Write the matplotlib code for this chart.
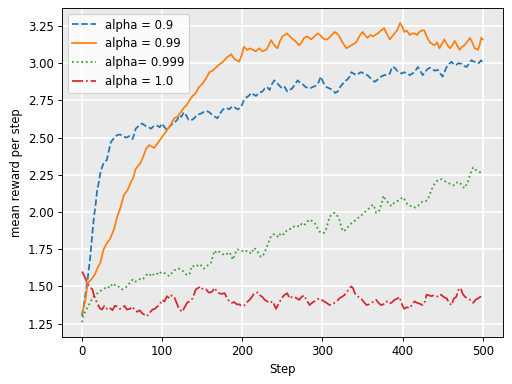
import matplotlib
matplotlib.use('Agg')
import matplotlib.pyplot as plt

# values (step, mean reward)
steps_09 = [0, 3, 7, 10, 13, 15, 17, 19, 21, 23, 25, 27, 29, 31, 33, 36, 39, 42, 45, 48, 51, 55, 59, 63, 65, 67, 71, 75, 79, 83, 86, 90, 94, 97, 100, 103, 106, 110, 115, 119, 121, 124, 127, 130, 133, 136, 140, 144, 148, 151, 155, 159, 163, 166, 169, 172, 176, 180, 184, 187, 190, 194, 198, 202, 205, 208, 211, 214, 217, 221, 225, 228, 231, 234, 237, 240, 243, 246, 250, 253, 256, 259, 262, 266, 269, 272, 275, 279, 284, 288, 292, 295, 298, 301, 305, 309, 313, 316, 319, 322, 325, 328, 331, 334, 336, 339, 342, 345, 348, 352, 356, 360, 365, 369, 373, 377, 381, 384, 387, 390, 393, 396, 399, 402, 406, 409, 412, 415, 419, 422, 425, 428, 431, 434, 437, 440, 444, 447, 450, 453, 456, 459, 461, 464, 467, 470, 474, 477, 480, 483, 486, 489, 492, 495, 498, 500]
vals_09 = [1.30, 1.40, 1.55, 1.68, 1.86, 1.97, 2.05, 2.15, 2.20, 2.265, 2.30, 2.33, 2.34, 2.35, 2.40, 2.47, 2.49, 2.51, 2.52, 2.52, 2.51, 2.50, 2.51, 2.49, 2.52, 2.56, 2.58, 2.595, 2.58, 2.57, 2.56, 2.58, 2.58, 2.57, 2.595, 2.57, 2.55, 2.58, 2.60, 2.62, 2.65, 2.64, 2.67, 2.65, 2.62, 2.615, 2.63, 2.655, 2.66, 2.67, 2.68, 2.67, 2.65, 2.64, 2.63, 2.66, 2.69, 2.70, 2.69, 2.71, 2.705, 2.69, 2.70, 2.75, 2.77, 2.78, 2.80, 2.79, 2.78, 2.80, 2.81, 2.83, 2.84, 2.82, 2.86, 2.885, 2.87, 2.85, 2.83, 2.84, 2.81, 2.82, 2.83, 2.86, 2.885, 2.87, 2.86, 2.84, 2.83, 2.84, 2.85, 2.87, 2.91, 2.87, 2.84, 2.83, 2.82, 2.80, 2.81, 2.84, 2.86, 2.88, 2.89, 2.91, 2.94, 2.93, 2.92, 2.93, 2.94, 2.93, 2.92, 2.90, 2.875, 2.89, 2.91, 2.92, 2.92, 2.93, 2.975, 2.97, 2.95, 2.94, 2.93, 2.94, 2.93, 2.92, 2.93, 2.94, 2.975, 2.95, 2.92, 2.94, 2.96, 2.97, 2.96, 2.95, 2.955, 2.93, 2.91, 2.95, 2.987, 3.00, 3.01, 2.99, 2.99, 3.00, 2.995, 2.98, 2.975, 3.00, 3.02, 3.01, 3.01, 3.00, 3.02, 3.00]

steps_099 = [0, 4, 7, 12, 16, 19, 23, 27, 31, 35, 40, 44, 48, 52, 57, 61, 64, 67, 70, 73, 77, 80, 84, 87, 90, 94, 98, 102, 106, 110, 115, 119, 123, 127, 131, 134, 138, 142, 146, 150, 155, 159, 163, 167, 171, 176, 181, 186, 190, 193, 196, 199, 202, 206, 210, 213, 217, 221, 225, 230, 233, 236, 240, 244, 247, 250, 253, 256, 261, 266, 271, 274, 277, 281, 286, 290, 294, 297, 300, 303, 306, 310, 315, 318, 321, 325, 330, 333, 336, 339, 342, 346, 350, 353, 356, 360, 363, 366, 369, 373, 377, 380, 384, 387, 390, 393, 397, 400, 402, 405, 409, 412, 415, 418, 421, 424, 427, 430, 434, 437, 440, 443, 446, 449, 452, 455, 459, 462, 465, 468, 471, 474, 477, 480, 484, 487, 490, 494, 496, 498, 500]
vals_099 = [1.32, 1.40, 1.52, 1.55, 1.58, 1.62, 1.66, 1.75, 1.79, 1.82, 1.885, 1.97, 2.03, 2.11, 2.15, 2.20, 2.23, 2.29, 2.31, 2.33, 2.38, 2.425, 2.45, 2.44, 2.43, 2.46, 2.49, 2.52, 2.55, 2.58, 2.63, 2.64, 2.67, 2.70, 2.72, 2.75, 2.78, 2.80, 2.84, 2.86, 2.90, 2.94, 2.95, 2.97, 2.99, 3.01, 3.04, 3.06, 3.03, 3.02, 3.01, 3.05, 3.11, 3.09, 3.10, 3.09, 3.08, 3.10, 3.08, 3.09, 3.12, 3.155, 3.12, 3.10, 3.15, 3.18, 3.19, 3.20, 3.17, 3.15, 3.12, 3.14, 3.17, 3.18, 3.16, 3.18, 3.20, 3.19, 3.17, 3.16, 3.16, 3.18, 3.21, 3.20, 3.18, 3.14, 3.10, 3.11, 3.12, 3.13, 3.14, 3.18, 3.21, 3.19, 3.17, 3.19, 3.18, 3.19, 3.20, 3.22, 3.235, 3.20, 3.16, 3.18, 3.20, 3.22, 3.27, 3.24, 3.21, 3.22, 3.19, 3.20, 3.20, 3.19, 3.21, 3.22, 3.22, 3.18, 3.14, 3.13, 3.12, 3.14, 3.10, 3.13, 3.16, 3.13, 3.10, 3.12, 3.15, 3.12, 3.09, 3.11, 3.12, 3.14, 3.17, 3.14, 3.10, 3.09, 3.12, 3.17, 3.16]

steps_0999 = [0, 2, 5, 8, 11, 14, 17, 20, 23, 26, 29, 32, 35, 38, 41, 44, 47, 50, 53, 56, 59, 63, 66, 69, 72, 75, 78, 81, 84, 87, 90, 93, 96, 99, 102, 105, 109, 112, 115, 118, 121, 124, 127, 130, 134, 136, 138, 141, 144, 146, 149, 152, 155, 158, 161, 163, 165, 167, 169, 172, 175, 178, 181, 184, 186, 188, 191, 194, 197, 200, 203, 206, 209, 211, 213, 215, 218, 221, 223, 225, 228, 231, 233, 236, 239, 242, 245, 248, 252, 256, 259, 262, 265, 268, 271, 274, 277, 280, 284, 287, 290, 293, 296, 299, 302, 305, 307, 309, 312, 315, 318, 321, 323, 325, 327, 330, 334, 337, 340, 343, 346, 349, 352, 355, 359, 361, 363, 365, 367, 369, 371, 374, 376, 378, 381, 384, 386, 389, 392, 396, 400, 403, 406, 410, 413, 416, 419, 422, 425, 428, 431, 434, 436, 438, 440, 443, 446, 449, 452, 455, 459, 462, 465, 468, 471, 474, 477, 479, 481, 483, 485, 488, 490, 492, 495, 498, 500]
vals_0999 = [1.26, 1.31, 1.34, 1.37, 1.40, 1.43, 1.44, 1.46, 1.47, 1.48, 1.49, 1.50, 1.49, 1.52, 1.51, 1.51, 1.49, 1.48, 1.49, 1.50, 1.52, 1.545, 1.53, 1.54, 1.55, 1.545, 1.56, 1.58, 1.57, 1.59, 1.575, 1.58, 1.60, 1.59, 1.595, 1.58, 1.57, 1.59, 1.61, 1.61, 1.62, 1.61, 1.60, 1.58, 1.58, 1.62, 1.64, 1.63, 1.64, 1.65, 1.64, 1.62, 1.63, 1.65, 1.66, 1.70, 1.74, 1.73, 1.74, 1.73, 1.72, 1.71, 1.72, 1.73, 1.71, 1.68, 1.72, 1.75, 1.74, 1.74, 1.73, 1.74, 1.73, 1.72, 1.74, 1.76, 1.74, 1.72, 1.70, 1.70, 1.73, 1.77, 1.80, 1.84, 1.85, 1.85, 1.83, 1.86, 1.85, 1.88, 1.885, 1.89, 1.905, 1.91, 1.90, 1.92, 1.91, 1.93, 1.95, 1.94, 1.93, 1.90, 1.87, 1.86, 1.86, 1.89, 1.93, 1.97, 1.98, 1.995, 1.98, 1.95, 1.91, 1.88, 1.87, 1.89, 1.91, 1.93, 1.94, 1.95, 1.97, 1.98, 1.995, 2.01, 2.03, 2.04, 2.05, 2.03, 1.995, 2.00, 2.01, 2.06, 2.11, 2.09, 2.07, 2.05, 2.04, 2.06, 2.07, 2.08, 2.10, 2.08, 2.05, 2.04, 2.04, 2.03, 2.04, 2.06, 2.07, 2.07, 2.08, 2.12, 2.15, 2.17, 2.19, 2.21, 2.22, 2.22, 2.21, 2.20, 2.19, 2.18, 2.18, 2.20, 2.20, 2.18, 2.16, 2.18, 2.19, 2.23, 2.265, 2.30, 2.29, 2.28, 2.27, 2.265, 2.26]

steps_10 = [0, 3, 5, 7, 9, 11, 13, 15, 17, 19, 21, 23, 25, 28, 31, 34, 38, 41, 44, 47, 50, 53, 56, 60, 63, 66, 69, 72, 75, 78, 81, 84, 88, 91, 94, 97, 100, 103, 106, 109, 112, 115, 118, 121, 125, 128, 131, 134, 138, 140, 142, 145, 148, 151, 155, 158, 161, 163, 165, 168, 171, 174, 178, 181, 184, 187, 190, 193, 196, 199, 202, 205, 209, 212, 215, 219, 222, 225, 228, 231, 234, 238, 242, 244, 246, 249, 252, 256, 259, 262, 265, 268, 271, 274, 277, 280, 284, 287, 290, 293, 296, 299, 302, 305, 309, 312, 315, 318, 321, 324, 327, 330, 334, 336, 338, 340, 342, 345, 348, 351, 355, 358, 361, 364, 367, 370, 373, 376, 380, 383, 386, 390, 394, 396, 398, 400, 402, 405, 409, 412, 415, 418, 421, 425, 428, 430, 433, 436, 439, 442, 445, 448, 451, 455, 458, 461, 464, 467, 469, 471, 473, 475, 478, 481, 484, 488, 491, 494, 497, 500]
vals_10 = [1.60, 1.57, 1.545, 1.52, 1.50, 1.49, 1.48, 1.44, 1.41, 1.39, 1.365, 1.35, 1.345, 1.37, 1.35, 1.36, 1.34, 1.37, 1.365, 1.35, 1.355, 1.37, 1.345, 1.35, 1.365, 1.34, 1.33, 1.34, 1.32, 1.31, 1.30, 1.32, 1.345, 1.35, 1.365, 1.38, 1.41, 1.40, 1.435, 1.42, 1.44, 1.43, 1.39, 1.35, 1.33, 1.36, 1.39, 1.40, 1.42, 1.45, 1.48, 1.49, 1.50, 1.48, 1.48, 1.46, 1.46, 1.47, 1.49, 1.47, 1.455, 1.45, 1.455, 1.42, 1.40, 1.39, 1.395, 1.38, 1.38, 1.37, 1.37, 1.39, 1.41, 1.43, 1.455, 1.46, 1.44, 1.43, 1.41, 1.40, 1.39, 1.40, 1.35, 1.37, 1.39, 1.42, 1.44, 1.455, 1.42, 1.43, 1.43, 1.42, 1.41, 1.43, 1.44, 1.41, 1.375, 1.39, 1.40, 1.41, 1.42, 1.41, 1.40, 1.39, 1.375, 1.38, 1.39, 1.40, 1.42, 1.43, 1.44, 1.46, 1.49, 1.50, 1.49, 1.46, 1.44, 1.43, 1.42, 1.40, 1.375, 1.38, 1.39, 1.40, 1.41, 1.39, 1.375, 1.38, 1.40, 1.385, 1.39, 1.41, 1.42, 1.43, 1.40, 1.37, 1.35, 1.36, 1.355, 1.38, 1.40, 1.39, 1.385, 1.375, 1.40, 1.445, 1.44, 1.435, 1.44, 1.435, 1.43, 1.445, 1.43, 1.42, 1.39, 1.375, 1.42, 1.43, 1.47, 1.49, 1.48, 1.45, 1.43, 1.42, 1.41, 1.39, 1.41, 1.42, 1.43, 1.43]

dpi = 84
fig, ax = plt.subplots(figsize=(512 / dpi, 384 / dpi), dpi=dpi)
fig.subplots_adjust(left=0.121, right=0.982, top=0.979, bottom=0.122)
ax.set_facecolor('#EAEAEA')
ax.grid(True, color='white', linewidth=1.5)
ax.set_axisbelow(True)

ax.plot(steps_09, vals_09, '--', label='alpha = 0.9')
ax.plot(steps_099, vals_099, '-', label='alpha = 0.99')
ax.plot(steps_0999, vals_0999, ':', label='alpha= 0.999')
ax.plot(steps_10, vals_10, '-.', label='alpha = 1.0')

ax.set_yticks([1.25, 1.5, 1.75, 2.0, 2.25, 2.5, 2.75, 3.0, 3.25])
ax.set_yticklabels(['1.25', '1.50', '1.75', '2.00', '2.25', '2.50', '2.75', '3.00', '3.25'])
ax.set_xlabel('Step')
ax.set_ylabel('mean reward per step')
ax.legend(loc='upper left')
plt.savefig('out.png', dpi=dpi)
